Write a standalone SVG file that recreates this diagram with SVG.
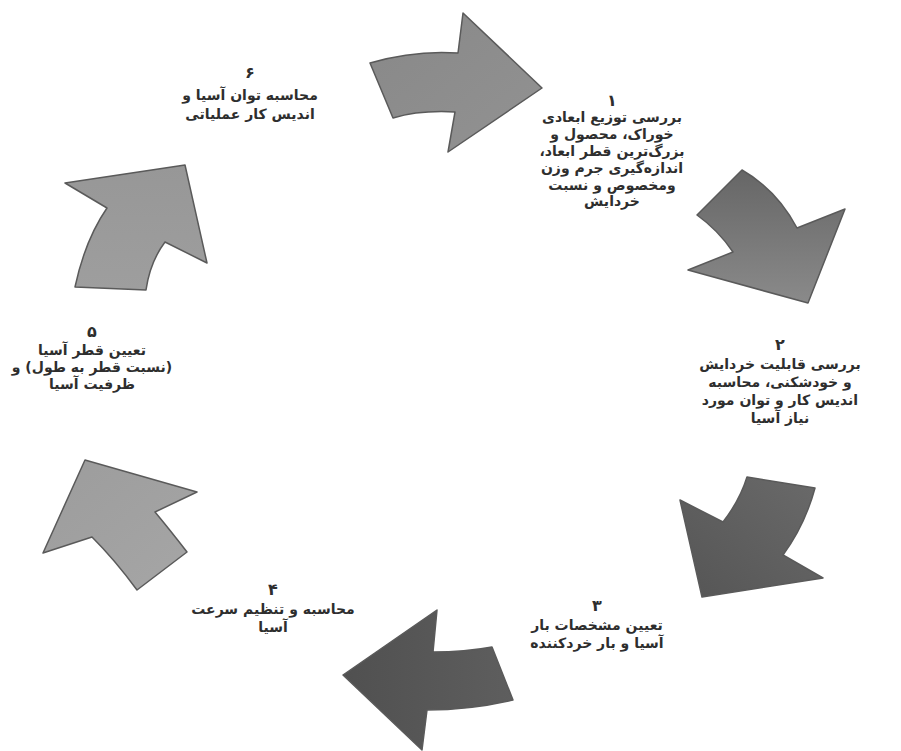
<svg xmlns="http://www.w3.org/2000/svg" width="901" height="751" viewBox="0 0 901 751">
<defs>
<style>
.arr{stroke:#5a5a5a;stroke-width:1.5;stroke-linejoin:round}
.t{font-family:"DejaVu Sans","Noto Sans",sans-serif;font-weight:bold;font-size:14px;fill:#2e2e2e;text-anchor:middle;direction:rtl;unicode-bidi:embed}
.n{font-size:16px}
</style>
<linearGradient id="g1" x1="0" y1="0" x2="1" y2="1"><stop offset="0" stop-color="#888"/><stop offset="1" stop-color="#929292"/></linearGradient>
<linearGradient id="g2" x1="0" y1="0" x2="0" y2="1"><stop offset="0" stop-color="#666"/><stop offset="1" stop-color="#8a8a8a"/></linearGradient>
<linearGradient id="g3" x1="1" y1="0" x2="0" y2="1"><stop offset="0" stop-color="#6a6a6a"/><stop offset="1" stop-color="#555"/></linearGradient>
<linearGradient id="g4" x1="1" y1="0" x2="0" y2="0"><stop offset="0" stop-color="#5e5e5e"/><stop offset="1" stop-color="#505050"/></linearGradient>
<linearGradient id="g5" x1="0" y1="0" x2="1" y2="1"><stop offset="0" stop-color="#9c9c9c"/><stop offset="1" stop-color="#a6a6a6"/></linearGradient>
<linearGradient id="g6" x1="0" y1="0" x2="0" y2="1"><stop offset="0" stop-color="#979797"/><stop offset="1" stop-color="#9e9e9e"/></linearGradient>
</defs>
<rect width="901" height="751" fill="#ffffff"/>
<g id="connectors">
<path class="arr" fill="url(#g1)" d="M370,63 Q414,50 458,53 L463,13 L542,88 L448,152 L455,112 Q420,110 393,118 Z"/>
<path class="arr" fill="url(#g2)" d="M742,170 Q777,190 797,228 L845,209 L808,303 L688,270 L733,252 Q718,230 697,215 Z"/>
<path class="arr" fill="url(#g3)" d="M747,477 L815,488 Q805,525 783,555 L823,578 L702,597 L680,500 L723,522 Q740,500 747,477 Z"/>
<path class="arr" fill="url(#g4)" d="M437,610 L433,652 Q465,652 492,647 L513,700 Q470,710 427,710 L422,750 L343,675 Z"/>
<path class="arr" fill="url(#g5)" d="M85,460 L197,492 L155,512 Q170,530 187,552 L137,590 Q115,560 92,537 L43,553 Z"/>
<path class="arr" fill="url(#g6)" d="M65,183 L185,165 L207,263 L165,242 Q150,262 146,290 L75,287 Q85,240 107,208 Z"/>
</g>
<g id="node1">
<text class="t n" x="612" y="106">۱</text>
<text class="t" x="612" y="122">بررسی توزیع ابعادی</text>
<text class="t" x="612" y="139">خوراک، محصول و</text>
<text class="t" x="612" y="156">بزرگ‌ترین قطر ابعاد،</text>
<text class="t" x="612" y="173">اندازه‌گیری جرم وزن</text>
<text class="t" x="612" y="190">ومخصوص و نسبت</text>
<text class="t" x="612" y="206">خردایش</text>
</g>
<g id="node2">
<text class="t n" x="780" y="350">۲</text>
<text class="t" x="780" y="369">بررسی قابلیت خردایش</text>
<text class="t" x="780" y="387">و خودشکنی، محاسبه</text>
<text class="t" x="780" y="405">اندیس کار و توان مورد</text>
<text class="t" x="780" y="423">نیاز آسیا</text>
</g>
<g id="node3">
<text class="t n" x="597" y="611">۳</text>
<text class="t" x="597" y="630">تعیین مشخصات بار</text>
<text class="t" x="597" y="648">آسیا و بار خردکننده</text>
</g>
<g id="node4">
<text class="t n" x="273" y="595">۴</text>
<text class="t" x="273" y="614">محاسبه و تنظیم سرعت</text>
<text class="t" x="273" y="632">آسیا</text>
</g>
<g id="node5">
<text class="t n" x="92" y="337">۵</text>
<text class="t" x="92" y="355">تعیین قطر آسیا</text>
<text class="t" x="92" y="372">(نسبت قطر به طول) و</text>
<text class="t" x="92" y="389">ظرفیت آسیا</text>
</g>
<g id="node6">
<text class="t n" x="250" y="78">۶</text>
<text class="t" x="250" y="100">محاسبه توان آسیا و</text>
<text class="t" x="250" y="119">اندیس کار عملیاتی</text>
</g>
</svg>
